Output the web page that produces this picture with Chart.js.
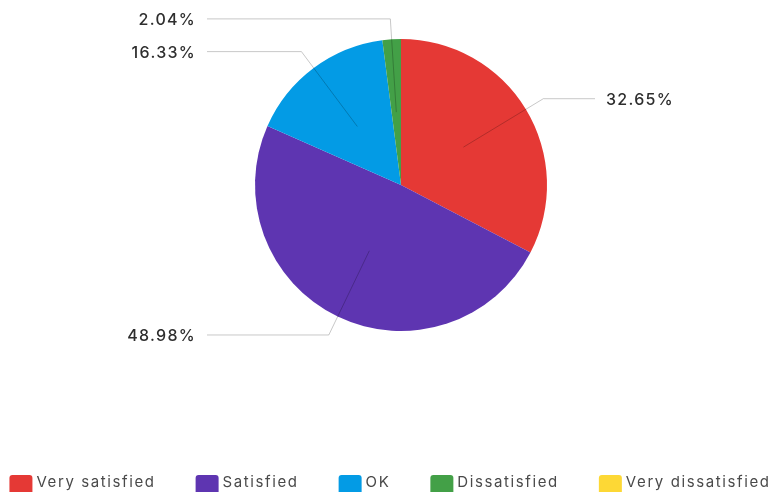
<!DOCTYPE html>
<html>
<head>
<meta charset="utf-8">
<script src="https://cdn.jsdelivr.net/npm/chart.js@4.4.1/dist/chart.umd.min.js"></script>
<style>
  html, body { margin: 0; padding: 0; background: #ffffff; overflow: hidden; }
  #wrap { width: 773px; height: 492px; position: relative; }
</style>
</head>
<body>
<div id="wrap"><canvas id="chart" width="773" height="492"></canvas></div>
<script>
// Survey answers and their share of responses (percent)
const categories = ['Very satisfied', 'Satisfied', 'OK', 'Dissatisfied', 'Very dissatisfied'];
const shares = [32.65, 48.98, 16.33, 2.04, 0];
const sliceColors = ['#e53935', '#5e35b1', '#039be5', '#43a047', '#fdd835'];

const FONT_FAMILY = 'Inter, "Open Sans", sans-serif';

// Percentage callouts with elbow leader lines
const calloutPlugin = {
  id: 'callouts',
  afterDatasetsDraw(chart) {
    const ctx = chart.ctx;
    const meta = chart.getDatasetMeta(0);
    ctx.save();
    ctx.font = '500 16px ' + FONT_FAMILY;
    ctx.letterSpacing = '1.3px';
    ctx.textBaseline = 'middle';
    meta.data.forEach((arc, i) => {
      const v = shares[i];
      if (!v) return;
      const { x, y, startAngle, endAngle, outerRadius } = arc.getProps(['x', 'y', 'startAngle', 'endAngle', 'outerRadius'], true);
      const mid = (startAngle + endAngle) / 2;
      const cos = Math.cos(mid), sin = Math.sin(mid);
      const x0 = x + cos * outerRadius * 0.5, y0 = y + sin * outerRadius * 0.5;
      const x1 = x + cos * outerRadius * 1.14, y1 = y + sin * outerRadius * 1.14;
      const right = cos >= 0;
      const x2 = right ? x + 194 : x - 194;
      ctx.beginPath();
      ctx.moveTo(x0, y0);
      ctx.lineTo(x1, y1);
      ctx.lineTo(x2, y1);
      ctx.strokeStyle = 'rgba(0,0,0,0.22)';
      ctx.lineWidth = 1;
      ctx.stroke();
      ctx.fillStyle = '#2e2e2e';
      ctx.textAlign = right ? 'left' : 'right';
      ctx.fillText(v.toFixed(2) + '%', right ? x2 + 11 : x2 - 11, y1 + 1.5);
    });
    ctx.restore();
  }
};

// Single legend row along the bottom edge
const legendRowPlugin = {
  id: 'legendRow',
  afterDraw(chart) {
    const ctx = chart.ctx;
    const boxW = 23, boxH = 22, boxGap = 4, itemGap = 40;
    ctx.save();
    ctx.font = '15px ' + FONT_FAMILY;
    ctx.letterSpacing = '1.6px';
    const widths = categories.map(t => boxW + boxGap + ctx.measureText(t).width);
    const total = widths.reduce((a, b) => a + b, 0) + itemGap * (categories.length - 1);
    let x = 390 - total / 2;
    const top = 475;
    categories.forEach((t, i) => {
      ctx.fillStyle = sliceColors[i];
      ctx.beginPath();
      ctx.roundRect(x, top, boxW, boxH, 3);
      ctx.fill();
      ctx.fillStyle = '#4a4a4a';
      ctx.textAlign = 'left';
      ctx.textBaseline = 'middle';
      ctx.fillText(t, x + boxW + boxGap, top + 7.5);
      x += widths[i] + itemGap;
    });
    ctx.restore();
  }
};

new Chart(document.getElementById('chart'), {
  type: 'pie',
  data: {
    labels: categories,
    datasets: [{
      data: shares,
      backgroundColor: sliceColors,
      borderWidth: 0
    }]
  },
  options: {
    responsive: false,
    animation: false,
    layout: { padding: { top: 39, bottom: 161, left: 29, right: 0 } },
    plugins: {
      legend: { display: false },
      tooltip: { enabled: false }
    }
  },
  plugins: [calloutPlugin, legendRowPlugin]
});
</script>
</body>
</html>
